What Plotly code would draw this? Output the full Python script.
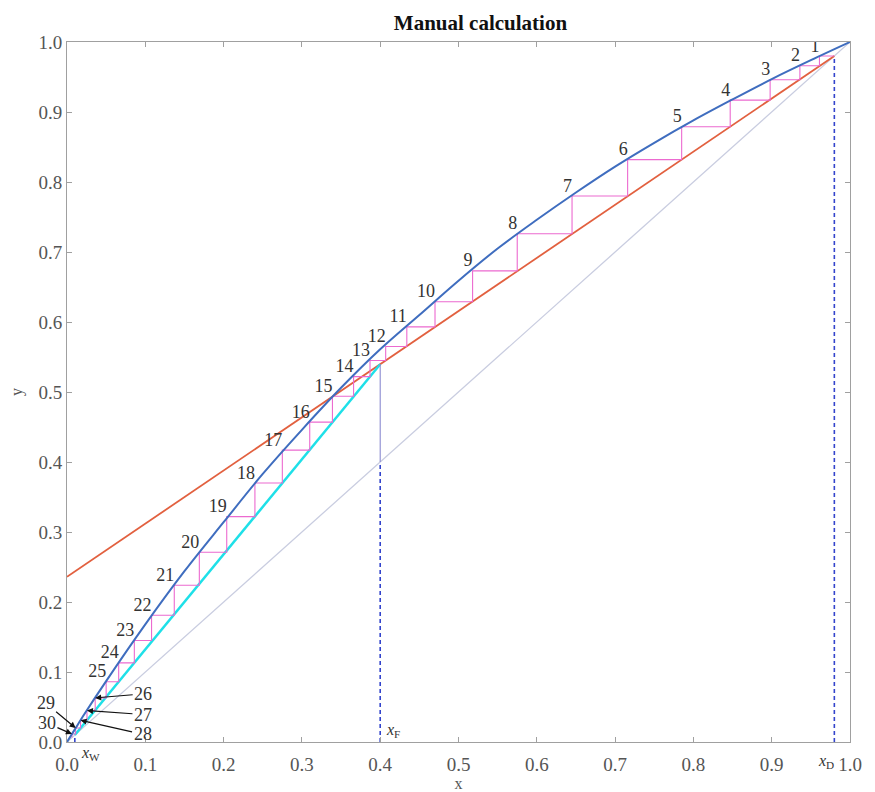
import plotly.graph_objects as go

# ---- data ----
eq_x = [0, 0.01, 0.02, 0.05, 0.1, 0.15, 0.2, 0.25, 0.3, 0.35, 0.4, 0.45, 0.5,
        0.55, 0.6, 0.65, 0.7, 0.75, 0.8, 0.85, 0.9, 0.95, 1.0]
eq_y = [0, 0.018, 0.036, 0.087, 0.168, 0.244, 0.314, 0.383, 0.446, 0.506, 0.561,
        0.610, 0.659, 0.705, 0.746, 0.785, 0.822, 0.856, 0.888, 0.918, 0.947, 0.974, 1.0]

xD = 0.98
xF = 0.40
xW = 0.01
rect_intercept = 0.236
q_point_y = 0.5396

stage_x = [0.961, 0.936, 0.898, 0.847, 0.785, 0.716, 0.645, 0.575, 0.518, 0.470,
           0.434, 0.407, 0.387, 0.366, 0.339, 0.310, 0.275, 0.240, 0.204, 0.169,
           0.137, 0.108, 0.086, 0.066, 0.050, 0.036, 0.0255, 0.0173, 0.011, 0.0063]
stage_y = [0.980, 0.966, 0.946, 0.917, 0.879, 0.832, 0.780, 0.726, 0.673, 0.629,
           0.593, 0.565, 0.545, 0.522, 0.494, 0.457, 0.417, 0.370, 0.322, 0.271,
           0.224, 0.181, 0.145, 0.113, 0.086, 0.063, 0.045, 0.031, 0.020, 0.0114]
stage_labels = [str(i + 1) for i in range(len(stage_x))]
n_text_stages = 25
# arrow-labelled stages (26-30): text offsets in pixels
arrow_ax = [48, 56, 62, -30, -25]
arrow_ay = [-4, 4, 14, -25, -11]

serif = "Liberation Serif, Times New Roman, serif"

fig = go.Figure()

# diagonal y = x
fig.add_trace(go.Scatter(x=[0, 1], y=[0, 1], mode="lines",
                         line=dict(color="#c9cde0", width=1.3), hoverinfo="skip"))

# rectifying operating line
fig.add_trace(go.Scatter(x=[0, xD], y=[rect_intercept, xD], mode="lines",
                         line=dict(color="#e2603f", width=1.8), hoverinfo="skip"))

# stripping operating line
fig.add_trace(go.Scatter(x=[xW, xF], y=[xW, q_point_y], mode="lines",
                         line=dict(color="#1ee0e8", width=2.5), hoverinfo="skip"))

# feed line (q = 1)
fig.add_trace(go.Scatter(x=[xF, xF], y=[0, xF], mode="lines",
                         line=dict(color="#3344cc", width=1.6, dash="4px,3px"), hoverinfo="skip"))
fig.add_trace(go.Scatter(x=[xF, xF], y=[xF, q_point_y], mode="lines",
                         line=dict(color="#8a8ad0", width=1.1), hoverinfo="skip"))

# xD and xW marker lines
fig.add_trace(go.Scatter(x=[xD, xD], y=[0, xD], mode="lines",
                         line=dict(color="#3344cc", width=1.6, dash="4px,3px"), hoverinfo="skip"))
fig.add_trace(go.Scatter(x=[xW, xW], y=[0, xW], mode="lines",
                         line=dict(color="#3344cc", width=1.6, dash="4px,3px"), hoverinfo="skip"))

# stage steps
sx, sy = [xD], [xD]
for i in range(len(stage_x)):
    sx.append(stage_x[i]); sy.append(stage_y[i])
    nxt = stage_y[i + 1] if i + 1 < len(stage_y) else stage_x[i]
    sx.append(stage_x[i]); sy.append(nxt)
fig.add_trace(go.Scatter(x=sx, y=sy, mode="lines",
                         line=dict(color="#ec6ad0", width=1.1), hoverinfo="skip"))

# equilibrium curve
fig.add_trace(go.Scatter(x=eq_x, y=eq_y, mode="lines", line_shape="spline",
                         line=dict(color="#3f6dbf", width=2), hoverinfo="skip"))

# stage numbers 1-25
fig.add_trace(go.Scatter(x=stage_x[:n_text_stages], y=stage_y[:n_text_stages],
                         mode="text", text=stage_labels[:n_text_stages],
                         textposition="top left",
                         textfont=dict(family=serif, size=18, color="#333333"),
                         hoverinfo="skip"))

# stage numbers 26-30 with arrows
for k in range(n_text_stages, len(stage_x)):
    j = k - n_text_stages
    fig.add_annotation(x=stage_x[k], y=stage_y[k], text=stage_labels[k],
                       showarrow=True, arrowhead=2, arrowsize=1, arrowwidth=1.2,
                       arrowcolor="#111111", ax=arrow_ax[j], ay=arrow_ay[j],
                       font=dict(family=serif, size=18, color="#333333"))

# x_F, x_D, x_W labels
fig.add_annotation(x=xF, y=0, text="<i>x</i><sub>F</sub>", showarrow=False,
                   xanchor="left", yanchor="bottom", xshift=4, yshift=0,
                   font=dict(family=serif, size=16, color="#333333"))
fig.add_annotation(x=xD, y=0, text="<i>x</i><sub>D</sub>", showarrow=False,
                   xanchor="right", yanchor="top", xshift=2, yshift=-8,
                   font=dict(family=serif, size=16, color="#333333"))
fig.add_annotation(x=xW, y=0, text="<i>x</i><sub>W</sub>", showarrow=False,
                   xanchor="left", yanchor="top", xshift=4, yshift=0,
                   font=dict(family=serif, size=16, color="#333333"))

ticks = [round(i * 0.1, 1) for i in range(11)]
axis_common = dict(range=[0, 1], showgrid=False, zeroline=False, showline=True,
                   linecolor="#a0a0a0", linewidth=1, mirror="ticks", ticks="inside",
                   ticklen=5, tickcolor="#a0a0a0", tickvals=ticks,
                   ticktext=[f"{t:.1f}" for t in ticks], automargin=False,
                   tickfont=dict(family=serif, size=19, color="#555555"))

fig.update_layout(
    width=875, height=792,
    margin=dict(l=59, r=33, t=34, b=58),
    plot_bgcolor="white", paper_bgcolor="white",
    showlegend=False,
    title=dict(text="<b>Manual calculation</b>", x=0.54, xanchor="center",
               y=0.982, yanchor="middle",
               font=dict(family=serif, size=21, color="#111111")),
    xaxis=dict(**axis_common, ticklabelstandoff=5,
               title=dict(text="x", standoff=0,
                          font=dict(family=serif, size=16, color="#555555"))),
    yaxis=dict(**axis_common, title=dict(text="y", standoff=20,
               font=dict(family=serif, size=16, color="#555555"))),
)

fig.write_html("out.html")
